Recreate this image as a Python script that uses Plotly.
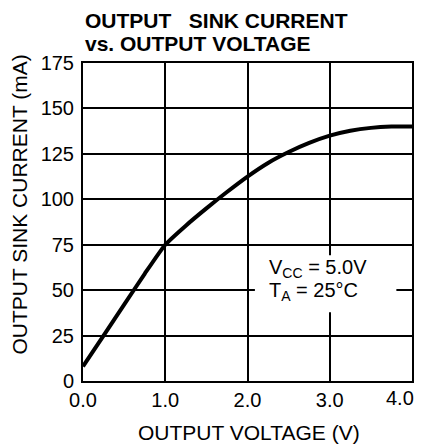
import plotly.graph_objects as go

voltage = [0.0, 0.25, 0.5, 0.75, 1.0, 1.25, 1.5, 1.75, 2.0, 2.25, 2.5, 2.75, 3.0, 3.25, 3.5, 3.75, 4.0]
current = [8, 25, 42, 59, 75, 85.5, 95, 104, 112.5, 120, 126, 131, 135, 137.7, 139.3, 140, 140]

x_ticks = [0, 1, 2, 3, 4]
x_labels = ["0.0", "1.0", "2.0", "3.0", "4.0"]
y_ticks = [0, 25, 50, 75, 100, 125, 150, 175]

FONT = "Liberation Sans, Arial, sans-serif"

fig = go.Figure()
fig.add_trace(go.Scatter(x=voltage, y=current, mode="lines",
                         line=dict(color="black", width=4, shape="spline", smoothing=0.5),
                         hoverinfo="skip", showlegend=False))

# the last x tick label sits at the figure edge; draw it right-aligned so it is not clipped
axis_labels = x_labels[:-1] + [""]

fig.update_layout(
    width=415, height=436,
    margin=dict(l=75, r=11, t=55, b=63, autoexpand=False),
    paper_bgcolor="white", plot_bgcolor="white",
    font=dict(family=FONT, color="black", size=20),
    xaxis=dict(range=[0, 4], tickvals=x_ticks, ticktext=axis_labels,
               showgrid=True, gridcolor="black", gridwidth=2,
               showline=True, linecolor="black", linewidth=2, mirror=True,
               ticks="", zeroline=False, tickfont=dict(size=20),
               ticklabeloverflow="allow", automargin=False),
    yaxis=dict(range=[0, 175], tickvals=y_ticks,
               showgrid=True, gridcolor="black", gridwidth=2,
               showline=True, linecolor="black", linewidth=2, mirror=True,
               ticks="", zeroline=False, tickfont=dict(size=20), ticklabelstandoff=3,
               automargin=False),
    shapes=[dict(type="rect", xref="x", yref="y", x0=2.09, x1=3.81, y0=37.8, y1=69.2,
                 fillcolor="white", line=dict(width=0), layer="between")],
    annotations=[
        dict(text=x_labels[-1], xref="x", yref="paper", x=x_ticks[-1], y=0,
             xanchor="right", yanchor="top", xshift=4, yshift=-4,
             showarrow=False, font=dict(size=20, family=FONT)),
        dict(text="<b>OUTPUT&nbsp;&nbsp; SINK CURRENT</b>", xref="paper", yref="paper",
             x=0, y=1, xanchor="left", yanchor="middle", yshift=43, align="left",
             showarrow=False, font=dict(size=21, family=FONT)),
        dict(text="<b>vs. OUTPUT VOLTAGE</b>", xref="paper", yref="paper",
             x=0, y=1, xanchor="left", yanchor="middle", yshift=20, align="left",
             showarrow=False, font=dict(size=21, family=FONT)),
        dict(text="V<sub>CC</sub> = 5.0V", xref="x", yref="y",
             x=2.235, y=61.7, xanchor="left", yanchor="middle", align="left",
             showarrow=False, font=dict(size=20, family=FONT)),
        dict(text="T<sub>A</sub> = 25°C", xref="x", yref="y",
             x=2.235, y=49.2, xanchor="left", yanchor="middle", align="left",
             showarrow=False, font=dict(size=20, family=FONT)),
        dict(text="OUTPUT SINK CURRENT (mA)", xref="paper", yref="paper",
             x=0, y=0.555, xanchor="center", yanchor="middle", xshift=-63, textangle=-90,
             showarrow=False, font=dict(size=21, family=FONT)),
        dict(text="OUTPUT VOLTAGE (V)", xref="paper", yref="paper",
             x=0.506, y=0, xanchor="center", yanchor="middle", yshift=-51,
             showarrow=False, font=dict(size=21, family=FONT)),
    ],
)

fig.write_html("out.html")
